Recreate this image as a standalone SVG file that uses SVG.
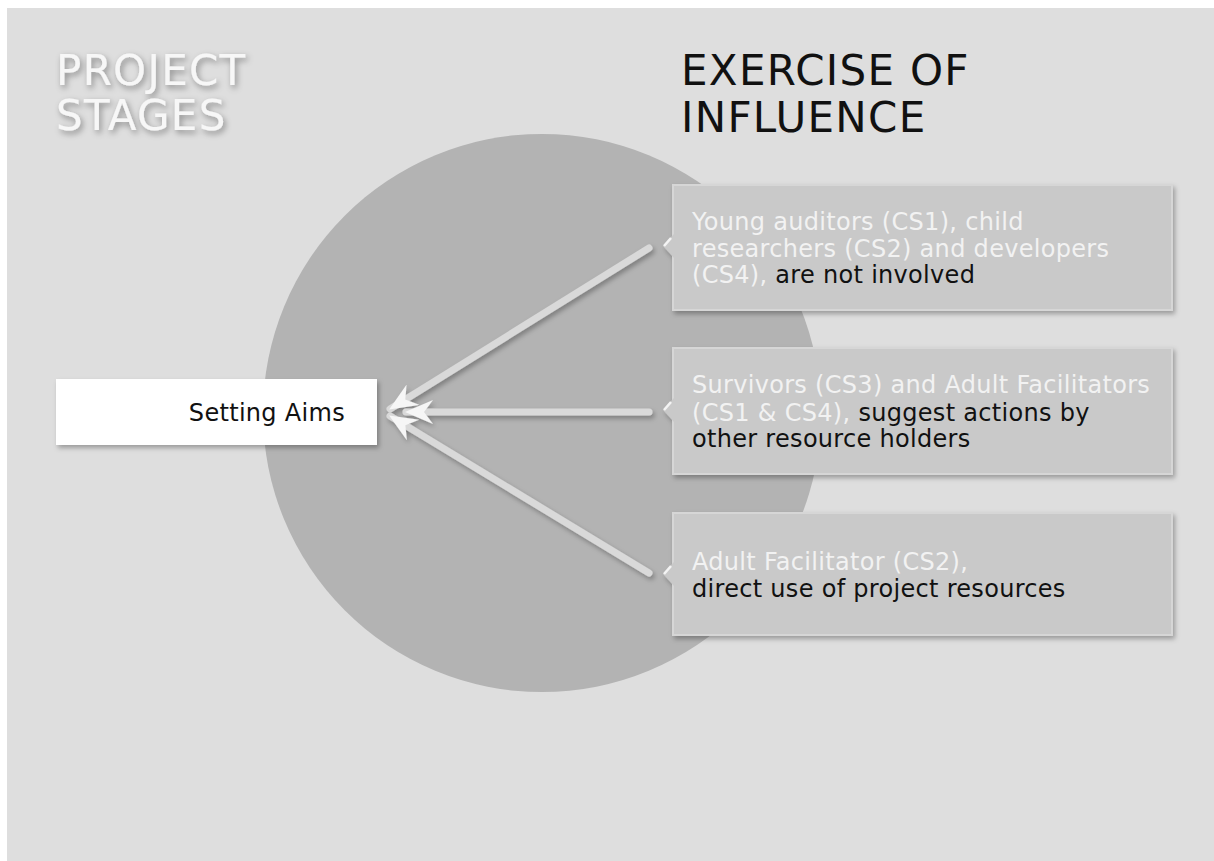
<svg xmlns="http://www.w3.org/2000/svg" width="1214" height="861" viewBox="0 0 1214 861">
  <defs>
    <style>
      .title { font-family: "DejaVu Sans", Verdana, sans-serif; font-size: 42px; letter-spacing: 1.3px; }
      .lbl { font-family: "DejaVu Sans", Verdana, sans-serif; font-size: 24px; letter-spacing: 0.3px; }
      .lt { fill: #f2f2f2; }
      .dk { fill: #111111; }
      .box { fill: #c9c9c9; stroke: #d6d6d6; stroke-width: 2; }
      .conn { stroke: #d9d9d9; stroke-width: 7; fill: none; stroke-linecap: round; }
    </style>
    <filter id="shadow" x="-10%" y="-10%" width="130%" height="140%">
      <feDropShadow dx="2" dy="3" stdDeviation="2.5" flood-color="#000" flood-opacity="0.3"/>
    </filter>
    <filter id="tshadow" x="-10%" y="-20%" width="130%" height="150%">
      <feDropShadow dx="2" dy="3" stdDeviation="3" flood-color="#000" flood-opacity="0.4"/>
    </filter>
    <marker id="arr" viewBox="0 0 28 24" refX="27" refY="12" markerWidth="28" markerHeight="24" markerUnits="userSpaceOnUse" orient="auto">
      <path d="M0,0 L28,12 L0,24 L9,12 Z" fill="#f6f6f6"/>
    </marker>
  </defs>

  <rect x="0" y="0" width="1214" height="861" fill="#ffffff"/>
  <rect x="7" y="8" width="1207" height="853" fill="#dedede"/>

  <circle cx="542" cy="413" r="279" fill="#b3b3b3"/>

  <g id="title-stages" filter="url(#tshadow)">
    <text class="title" x="56" y="85" fill="#f7f7f7">PROJECT</text>
    <text class="title" x="56" y="130" fill="#f7f7f7">STAGES</text>
  </g>

  <g id="title-influence">
    <text class="title" x="681" y="85" fill="#111111">EXERCISE OF</text>
    <text class="title" x="681" y="132" fill="#111111">INFLUENCE</text>
  </g>

  <g id="node-setting-aims">
    <rect x="56" y="379" width="321" height="66" fill="#ffffff" filter="url(#shadow)"/>
    <text class="lbl dk" x="345" y="421" text-anchor="end">Setting Aims</text>
  </g>

  <g id="node-box1">
    <g filter="url(#shadow)">
      <rect class="box" x="673" y="185" width="499" height="125"/>
      <polygon points="674,234 663,246 674,258" fill="#c9c9c9"/>
    </g>
    <line x1="671" y1="238" x2="664" y2="246" stroke="#f4f4f4" stroke-width="2.5"/>
    <text class="lbl">
      <tspan class="lt" x="692" y="230">Young auditors (CS1), child</tspan>
      <tspan class="lt" x="692" y="257">researchers (CS2) and developers</tspan>
      <tspan class="lt" x="692" y="283">(CS4),</tspan><tspan class="dk"> are not involved</tspan>
    </text>
  </g>

  <g id="node-box2">
    <g filter="url(#shadow)">
      <rect class="box" x="673" y="348" width="499" height="126"/>
      <polygon points="674,398 663,410 674,422" fill="#c9c9c9"/>
    </g>
    <line x1="671" y1="402" x2="664" y2="410" stroke="#f4f4f4" stroke-width="2.5"/>
    <text class="lbl">
      <tspan class="lt" x="692" y="393">Survivors (CS3) and Adult Facilitators</tspan>
      <tspan class="lt" x="692" y="421">(CS1 &amp; CS4),</tspan><tspan class="dk"> suggest actions by</tspan>
      <tspan class="dk" x="692" y="447">other resource holders</tspan>
    </text>
  </g>

  <g id="node-box3">
    <g filter="url(#shadow)">
      <rect class="box" x="673" y="513" width="499" height="122"/>
      <polygon points="674,562 663,574 674,586" fill="#c9c9c9"/>
    </g>
    <line x1="671" y1="566" x2="664" y2="574" stroke="#f4f4f4" stroke-width="2.5"/>
    <text class="lbl">
      <tspan class="lt" x="692" y="570">Adult Facilitator (CS2),</tspan>
      <tspan class="dk" x="692" y="597">direct use of project resources</tspan>
    </text>
  </g>

  <g id="connectors" filter="url(#shadow)">
    <line class="conn" x1="649" y1="248" x2="390" y2="409" marker-end="url(#arr)"/>
    <line class="conn" x1="649" y1="412" x2="406" y2="412" marker-end="url(#arr)"/>
    <line class="conn" x1="649" y1="573" x2="390" y2="416" marker-end="url(#arr)"/>
  </g>
</svg>
